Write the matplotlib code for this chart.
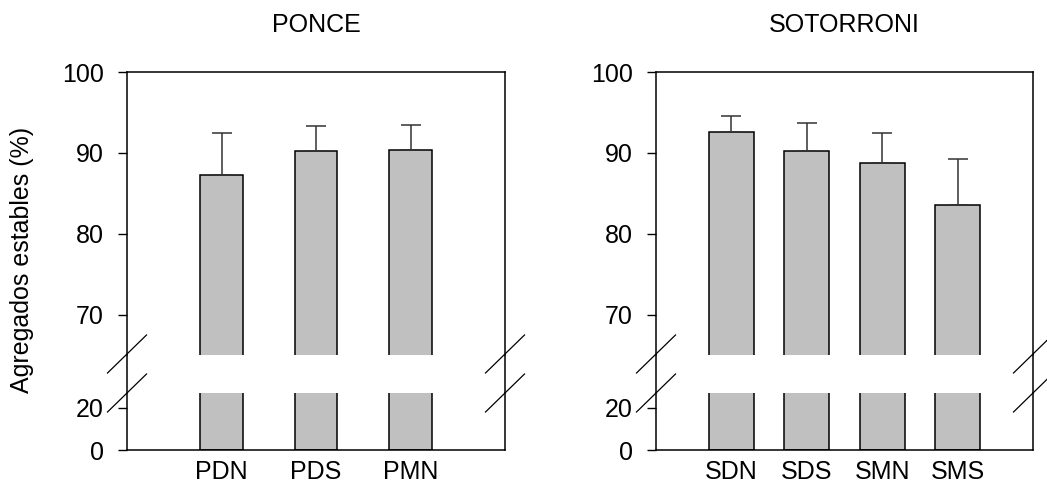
import matplotlib
matplotlib.use("Agg")
import matplotlib.pyplot as plt
from matplotlib.lines import Line2D

plt.rcParams['font.family'] = ['Liberation Sans', 'DejaVu Sans']

ponce_labels = ['PDN', 'PDS', 'PMN']
ponce_vals = [87.3, 90.2, 90.4]
ponce_err = [5.2, 3.1, 3.1]

soto_labels = ['SDN', 'SDS', 'SMN', 'SMS']
soto_vals = [92.6, 90.2, 88.7, 83.6]
soto_err = [1.9, 3.5, 3.8, 5.6]

W, H = 1047, 490
fig = plt.figure(figsize=(W / 100, H / 100), dpi=100)

FS = 18
bar_col = '#c0c0c0'


def fx(px):
    return px / W


def fy(py):
    return 1 - py / H


def panel(x0, x1, labels, vals, errs, width, xlim, title):
    top = fig.add_axes([fx(x0), fy(355), fx(x1 - x0), fy(72) - fy(355)])
    bot = fig.add_axes([fx(x0), fy(450), fx(x1 - x0), fy(393) - fy(450)])
    xs = list(range(len(labels)))
    for ax in (top, bot):
        ax.bar(xs, vals, width=width, color=bar_col, edgecolor='black', linewidth=1.1)
        ax.set_xlim(*xlim)
        ax.tick_params(axis='y', direction='out', length=6.5, width=1, labelsize=FS, pad=10)
        for s in ax.spines.values():
            s.set_linewidth(1.1)
    top.errorbar(xs, vals, yerr=[[0] * len(errs), errs], fmt='none', ecolor='#333333',
                 elinewidth=1.1, capsize=7, capthick=1.1)
    top.set_ylim(65, 100)
    top.set_yticks([70, 80, 90, 100])
    top.spines['bottom'].set_visible(False)
    top.set_xticks([])
    bot.set_ylim(0, 27)
    bot.set_yticks([0, 20])
    bot.spines['top'].set_visible(False)
    bot.set_xticks(xs)
    bot.set_xticklabels(labels, fontsize=FS)
    bot.tick_params(axis='x', length=0, pad=7.5)

    # continuous side spines through the gap and break marks
    for xp in (x0, x1):
        fig.add_artist(Line2D([fx(xp), fx(xp)], [fy(355), fy(393)], color='black', lw=1.1))
        for yc in (354, 393):
            fig.add_artist(Line2D([fx(xp - 19.5), fx(xp + 19.5)], [fy(yc + 19), fy(yc - 19)],
                                  color='black', lw=0.9))
    fig.text(fx((x0 + x1) / 2), fy(25), title, ha='center', va='center', fontsize=FS)
    return top, bot


panel(127, 505, ponce_labels, ponce_vals, ponce_err, 0.455, (-1, 3), 'PONCE')
panel(656, 1033, soto_labels, soto_vals, soto_err, 0.6, (-1, 4), 'SOTORRONI')

fig.text(fx(22), fy(260), 'Agregados estables (%)', rotation=90, ha='center', va='center', fontsize=FS)

fig.savefig('out.png', dpi=100)
